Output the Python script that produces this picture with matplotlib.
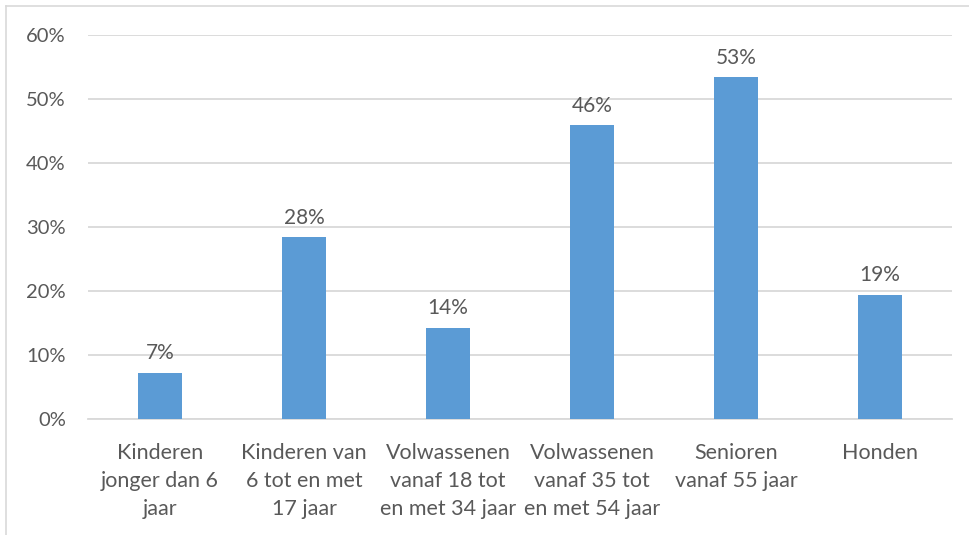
import matplotlib.pyplot as plt
from matplotlib.lines import Line2D
from matplotlib.ticker import FuncFormatter

categories = ['Kinderen\njonger dan 6\njaar', 'Kinderen van\n6 tot en met\n17 jaar',
              'Volwassenen\nvanaf 18 tot\nen met 34 jaar', 'Volwassenen\nvanaf 35 tot\nen met 54 jaar',
              'Senioren\nvanaf 55 jaar', 'Honden']
values = [7.2, 28.4, 14.2, 45.9, 53.4, 19.4]  # percent
yticks = [0, 10, 20, 30, 40, 50, 60]

bar_color = '#5B9BD5'
text_color = '#595959'
grid_color = '#D9D9D9'

plt.rcParams['font.family'] = ['Lato', 'DejaVu Sans']

fig = plt.figure(figsize=(9.7, 5.35), dpi=100)
ax = fig.add_axes([88/970, 1-419/535, (952-88)/970, (419-35)/535])

x = list(range(len(categories)))
bars = ax.bar(x, values, width=0.31, color=bar_color, zorder=3)
for xi, v in zip(x, values):
    ax.annotate(f'{round(v)}%', (xi, v), xytext=(0, 7), textcoords='offset points',
                ha='center', va='bottom', fontsize=15, color=text_color)

ax.set_xlim(-0.5, len(categories) - 0.5)
ax.set_ylim(0, 60)
ax.set_yticks(yticks)
ax.yaxis.set_major_formatter(FuncFormatter(lambda v, p: f'{v:.0f}%'))
ax.set_xticks(x)
ax.set_xticklabels(categories, linespacing=1.5)
ax.tick_params(axis='both', length=0, labelcolor=text_color)
ax.tick_params(axis='y', pad=16, labelsize=14.5)
ax.tick_params(axis='x', pad=17.5, labelsize=15.5)
ax.grid(axis='y', color=grid_color, linewidth=1.3, zorder=0)
for s in ['top', 'right', 'left']:
    ax.spines[s].set_visible(False)
ax.spines['bottom'].set_color(grid_color)
ax.spines['bottom'].set_linewidth(1.3)

# outer chart border (left and top visible)
fig.add_artist(Line2D([6/970, 6/970], [0, 1-6/535], transform=fig.transFigure, color=grid_color, lw=1.2))
fig.add_artist(Line2D([6/970, 1], [1-6/535, 1-6/535], transform=fig.transFigure, color=grid_color, lw=1.2))

fig.savefig('out.png', dpi=100)
